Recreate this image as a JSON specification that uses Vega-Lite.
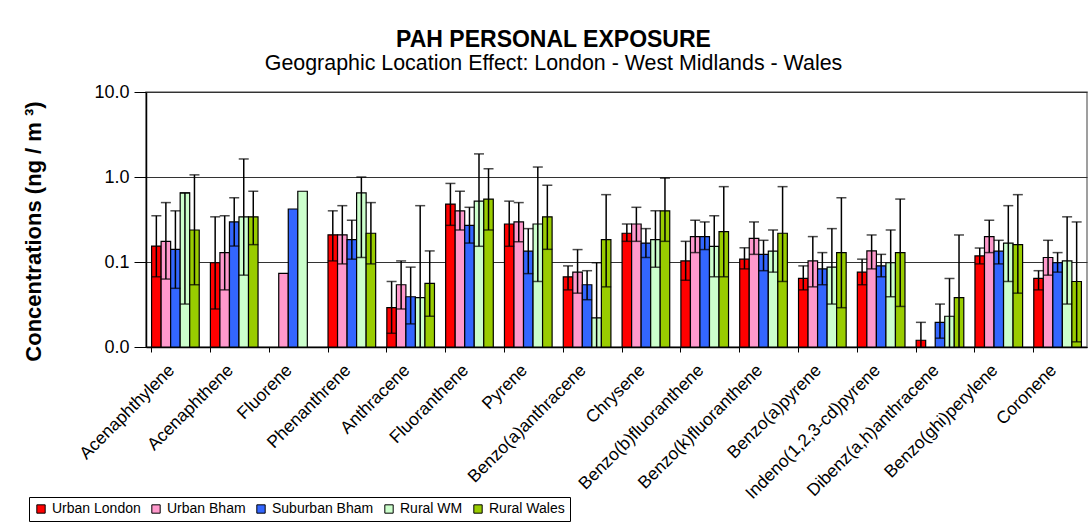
{
  "$schema": "https://vega.github.io/schema/vega-lite/v6.json",
  "width": 941,
  "height": 255,
  "autosize": "none",
  "padding": {"left": 146, "top": 92, "right": 3, "bottom": 184},
  "background": "white",
  "title": {
    "text": "PAH PERSONAL EXPOSURE",
    "subtitle": "Geographic Location Effect: London - West Midlands - Wales",
    "font": "Liberation Sans",
    "fontSize": 23,
    "fontWeight": "bold",
    "color": "black",
    "subtitleFont": "Liberation Sans",
    "subtitleFontSize": 21.4,
    "subtitleColor": "black",
    "anchor": "middle",
    "dx": -63,
    "offset": 9,
    "subtitlePadding": 1
  },
  "config": {
    "font": "Liberation Sans",
    "view": {"stroke": "#808080", "strokeWidth": 1.5},
    "axis": {"labelColor": "black", "titleColor": "black", "domainColor": "black", "tickColor": "black"}
  },
  "data": {
    "values": [
      {"c": "Acenaphthylene", "s": "Urban London", "v": 0.154, "lo": 0.067, "hi": 0.35},
      {"c": "Acenaphthylene", "s": "Urban Bham", "v": 0.175, "lo": 0.063, "hi": 0.5},
      {"c": "Acenaphthylene", "s": "Suburban Bham", "v": 0.141, "lo": 0.049, "hi": 0.4},
      {"c": "Acenaphthylene", "s": "Rural WM", "v": 0.65, "lo": 0.032, "hi": 0.65},
      {"c": "Acenaphthylene", "s": "Rural Wales", "v": 0.238, "lo": 0.054, "hi": 1.06},
      {"c": "Acenaphthene", "s": "Urban London", "v": 0.098, "lo": 0.028, "hi": 0.34},
      {"c": "Acenaphthene", "s": "Urban Bham", "v": 0.129, "lo": 0.047, "hi": 0.35},
      {"c": "Acenaphthene", "s": "Suburban Bham", "v": 0.296, "lo": 0.154, "hi": 0.57},
      {"c": "Acenaphthene", "s": "Rural WM", "v": 0.34, "lo": 0.07, "hi": 1.63},
      {"c": "Acenaphthene", "s": "Rural Wales", "v": 0.34, "lo": 0.16, "hi": 0.68},
      {"c": "Fluorene", "s": "Urban Bham", "v": 0.0736, "lo": null, "hi": null},
      {"c": "Fluorene", "s": "Suburban Bham", "v": 0.42, "lo": null, "hi": null},
      {"c": "Fluorene", "s": "Rural WM", "v": 0.68, "lo": null, "hi": null},
      {"c": "Phenanthrene", "s": "Urban London", "v": 0.209, "lo": 0.103, "hi": 0.4},
      {"c": "Phenanthrene", "s": "Urban Bham", "v": 0.209, "lo": 0.095, "hi": 0.46},
      {"c": "Phenanthrene", "s": "Suburban Bham", "v": 0.183, "lo": 0.108, "hi": 0.31},
      {"c": "Phenanthrene", "s": "Rural WM", "v": 0.65, "lo": 0.113, "hi": 1.0},
      {"c": "Phenanthrene", "s": "Rural Wales", "v": 0.218, "lo": 0.095, "hi": 0.5},
      {"c": "Anthracene", "s": "Urban London", "v": 0.029, "lo": 0.0145, "hi": 0.059},
      {"c": "Anthracene", "s": "Urban Bham", "v": 0.054, "lo": 0.028, "hi": 0.103},
      {"c": "Anthracene", "s": "Suburban Bham", "v": 0.039, "lo": 0.0187, "hi": 0.087},
      {"c": "Anthracene", "s": "Rural WM", "v": 0.038, "lo": 0.005, "hi": 0.46},
      {"c": "Anthracene", "s": "Rural Wales", "v": 0.056, "lo": 0.023, "hi": 0.135},
      {"c": "Fluoranthene", "s": "Urban London", "v": 0.48, "lo": 0.27, "hi": 0.84},
      {"c": "Fluoranthene", "s": "Urban Bham", "v": 0.4, "lo": 0.238, "hi": 0.68},
      {"c": "Fluoranthene", "s": "Suburban Bham", "v": 0.27, "lo": 0.167, "hi": 0.44},
      {"c": "Fluoranthene", "s": "Rural WM", "v": 0.52, "lo": 0.153, "hi": 1.87},
      {"c": "Fluoranthene", "s": "Rural Wales", "v": 0.55, "lo": 0.238, "hi": 1.25},
      {"c": "Pyrene", "s": "Urban London", "v": 0.28, "lo": 0.153, "hi": 0.52},
      {"c": "Pyrene", "s": "Urban Bham", "v": 0.296, "lo": 0.173, "hi": 0.5},
      {"c": "Pyrene", "s": "Suburban Bham", "v": 0.134, "lo": 0.073, "hi": 0.247},
      {"c": "Pyrene", "s": "Rural WM", "v": 0.28, "lo": 0.059, "hi": 1.31},
      {"c": "Pyrene", "s": "Rural Wales", "v": 0.34, "lo": 0.141, "hi": 0.8},
      {"c": "Benzo(a)anthracene", "s": "Urban London", "v": 0.067, "lo": 0.047, "hi": 0.09},
      {"c": "Benzo(a)anthracene", "s": "Urban Bham", "v": 0.076, "lo": 0.043, "hi": 0.14},
      {"c": "Benzo(a)anthracene", "s": "Suburban Bham", "v": 0.054, "lo": 0.036, "hi": 0.079},
      {"c": "Benzo(a)anthracene", "s": "Rural WM", "v": 0.022, "lo": 0.005, "hi": 0.098},
      {"c": "Benzo(a)anthracene", "s": "Rural Wales", "v": 0.183, "lo": 0.051, "hi": 0.62},
      {"c": "Chrysene", "s": "Urban London", "v": 0.218, "lo": 0.175, "hi": 0.28},
      {"c": "Chrysene", "s": "Urban Bham", "v": 0.28, "lo": 0.175, "hi": 0.44},
      {"c": "Chrysene", "s": "Suburban Bham", "v": 0.167, "lo": 0.113, "hi": 0.247},
      {"c": "Chrysene", "s": "Rural WM", "v": 0.183, "lo": 0.087, "hi": 0.4},
      {"c": "Chrysene", "s": "Rural Wales", "v": 0.4, "lo": 0.175, "hi": 0.97},
      {"c": "Benzo(b)fluoranthene", "s": "Urban London", "v": 0.103, "lo": 0.061, "hi": 0.175},
      {"c": "Benzo(b)fluoranthene", "s": "Urban Bham", "v": 0.199, "lo": 0.129, "hi": 0.31},
      {"c": "Benzo(b)fluoranthene", "s": "Suburban Bham", "v": 0.199, "lo": 0.14, "hi": 0.296},
      {"c": "Benzo(b)fluoranthene", "s": "Rural WM", "v": 0.153, "lo": 0.067, "hi": 0.35},
      {"c": "Benzo(b)fluoranthene", "s": "Rural Wales", "v": 0.228, "lo": 0.067, "hi": 0.77},
      {"c": "Benzo(k)fluoranthene", "s": "Urban London", "v": 0.108, "lo": 0.083, "hi": 0.147},
      {"c": "Benzo(k)fluoranthene", "s": "Urban Bham", "v": 0.19, "lo": 0.123, "hi": 0.296},
      {"c": "Benzo(k)fluoranthene", "s": "Suburban Bham", "v": 0.123, "lo": 0.079, "hi": 0.18},
      {"c": "Benzo(k)fluoranthene", "s": "Rural WM", "v": 0.134, "lo": 0.076, "hi": 0.238},
      {"c": "Benzo(k)fluoranthene", "s": "Rural Wales", "v": 0.218, "lo": 0.059, "hi": 0.77},
      {"c": "Benzo(a)pyrene", "s": "Urban London", "v": 0.064, "lo": 0.047, "hi": 0.09},
      {"c": "Benzo(a)pyrene", "s": "Urban Bham", "v": 0.103, "lo": 0.051, "hi": 0.199},
      {"c": "Benzo(a)pyrene", "s": "Suburban Bham", "v": 0.083, "lo": 0.054, "hi": 0.129},
      {"c": "Benzo(a)pyrene", "s": "Rural WM", "v": 0.087, "lo": 0.032, "hi": 0.247},
      {"c": "Benzo(a)pyrene", "s": "Rural Wales", "v": 0.129, "lo": 0.029, "hi": 0.57},
      {"c": "Indeno(1,2,3-cd)pyrene", "s": "Urban London", "v": 0.076, "lo": 0.054, "hi": 0.108},
      {"c": "Indeno(1,2,3-cd)pyrene", "s": "Urban Bham", "v": 0.135, "lo": 0.083, "hi": 0.208},
      {"c": "Indeno(1,2,3-cd)pyrene", "s": "Suburban Bham", "v": 0.09, "lo": 0.067, "hi": 0.123},
      {"c": "Indeno(1,2,3-cd)pyrene", "s": "Rural WM", "v": 0.098, "lo": 0.039, "hi": 0.238},
      {"c": "Indeno(1,2,3-cd)pyrene", "s": "Rural Wales", "v": 0.129, "lo": 0.03, "hi": 0.55},
      {"c": "Dibenz(a,h)anthracene", "s": "Urban London", "v": 0.012, "lo": 0.005, "hi": 0.0195},
      {"c": "Dibenz(a,h)anthracene", "s": "Suburban Bham", "v": 0.0195, "lo": 0.0127, "hi": 0.032},
      {"c": "Dibenz(a,h)anthracene", "s": "Rural WM", "v": 0.023, "lo": 0.005, "hi": 0.064},
      {"c": "Dibenz(a,h)anthracene", "s": "Rural Wales", "v": 0.038, "lo": 0.005, "hi": 0.208},
      {"c": "Benzo(ghi)perylene", "s": "Urban London", "v": 0.118, "lo": 0.095, "hi": 0.146},
      {"c": "Benzo(ghi)perylene", "s": "Urban Bham", "v": 0.199, "lo": 0.129, "hi": 0.31},
      {"c": "Benzo(ghi)perylene", "s": "Suburban Bham", "v": 0.134, "lo": 0.095, "hi": 0.18},
      {"c": "Benzo(ghi)perylene", "s": "Rural WM", "v": 0.167, "lo": 0.059, "hi": 0.46},
      {"c": "Benzo(ghi)perylene", "s": "Rural Wales", "v": 0.16, "lo": 0.043, "hi": 0.62},
      {"c": "Coronene", "s": "Urban London", "v": 0.064, "lo": 0.047, "hi": 0.079},
      {"c": "Coronene", "s": "Urban Bham", "v": 0.113, "lo": 0.07, "hi": 0.18},
      {"c": "Coronene", "s": "Suburban Bham", "v": 0.098, "lo": 0.076, "hi": 0.129},
      {"c": "Coronene", "s": "Rural WM", "v": 0.103, "lo": 0.032, "hi": 0.34},
      {"c": "Coronene", "s": "Rural Wales", "v": 0.059, "lo": 0.0115, "hi": 0.296}
    ]
  },
  "encoding": {
    "x": {
      "field": "c",
      "type": "nominal",
      "sort": ["Acenaphthylene", "Acenaphthene", "Fluorene", "Phenanthrene", "Anthracene", "Fluoranthene", "Pyrene", "Benzo(a)anthracene", "Chrysene", "Benzo(b)fluoranthene", "Benzo(k)fluoranthene", "Benzo(a)pyrene", "Indeno(1,2,3-cd)pyrene", "Dibenz(a,h)anthracene", "Benzo(ghi)perylene", "Coronene"],
      "scale": {"paddingInner": 0.19, "paddingOuter": 0.095},
      "axis": {
        "title": null,
        "labelAngle": -45,
        "labelAlign": "right",
        "labelBaseline": "top",
        "labelFontSize": 17.5,
        "labelPadding": 9,
        "labelOffset": -10,
        "bandPosition": 0,
        "tickSize": 5,
        "domainWidth": 1.5,
        "labelLimit": 300
      }
    },
    "xOffset": {
      "field": "s",
      "type": "nominal",
      "sort": ["Urban London", "Urban Bham", "Suburban Bham", "Rural WM", "Rural Wales"],
      "scale": {"paddingInner": 0, "paddingOuter": 0}
    }
  },
  "layer": [
    {
      "mark": {"type": "bar", "stroke": "black", "strokeWidth": 1.2},
      "encoding": {
        "y": {
          "field": "v",
          "type": "quantitative",
          "title": "Concentrations (ng / m ³)",
          "scale": {"type": "log", "domain": [0.01, 10], "nice": false},
          "axis": {
            "values": [0.01, 0.1, 1, 10],
            "format": ".1f",
            "labelFontSize": 18,
            "labelPadding": 5,
            "tickSize": 12,
            "grid": true,
            "gridColor": "#333333",
            "gridWidth": 1,
            "domainWidth": 1.5,
            "titleFontSize": 22,
            "titleFontWeight": "bold",
            "titleX": -113,
            "titleY": 139,
            "titleBaseline": "middle",
            "titleAlign": "center"
          }
        },
        "y2": {"datum": 0.01},
        "color": {
          "field": "s",
          "type": "nominal",
          "scale": {
            "domain": ["Urban London", "Urban Bham", "Suburban Bham", "Rural WM", "Rural Wales"],
            "range": ["#FF0000", "#FF99CC", "#3366FF", "#CCFFCC", "#99CC00"]
          },
          "legend": {
            "title": null,
            "orient": "none",
            "legendX": -117,
            "legendY": 405,
            "direction": "horizontal",
            "columns": 5,
            "strokeColor": "black",
            "padding": 5,
            "labelFontSize": 14,
            "labelColor": "black",
            "symbolType": "square",
            "symbolSize": 70,
            "symbolStrokeColor": "black",
            "symbolStrokeWidth": 1,
            "columnPadding": 8,
            "labelOffset": 4
          }
        }
      }
    },
    {
      "transform": [{"filter": "datum.lo != null"}],
      "mark": {"type": "rule", "color": "black", "strokeWidth": 1.5, "clip": true},
      "encoding": {
        "y": {"field": "lo", "type": "quantitative", "title": "Concentrations (ng / m ³)"},
        "y2": {"field": "hi"}
      }
    },
    {
      "transform": [{"filter": "datum.lo != null"}],
      "mark": {"type": "tick", "color": "black", "thickness": 1.5, "size": 10, "clip": true},
      "encoding": {
        "y": {"field": "lo", "type": "quantitative", "title": "Concentrations (ng / m ³)"}
      }
    },
    {
      "transform": [{"filter": "datum.hi != null"}],
      "mark": {"type": "tick", "color": "black", "thickness": 1.5, "size": 10, "clip": true},
      "encoding": {
        "y": {"field": "hi", "type": "quantitative", "title": "Concentrations (ng / m ³)"}
      }
    }
  ]
}
